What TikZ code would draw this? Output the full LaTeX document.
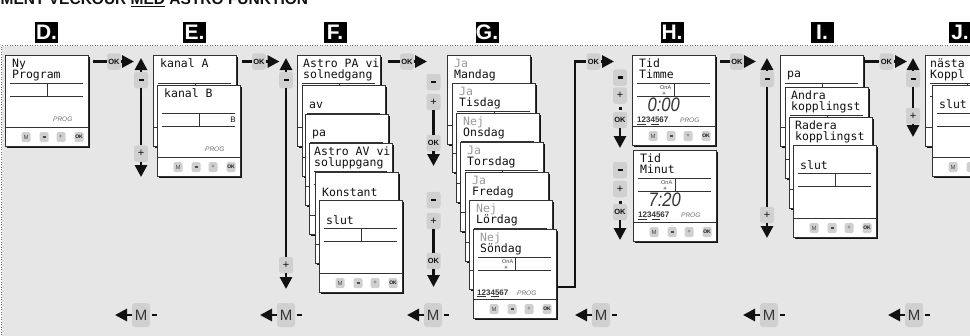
\documentclass[tikz,border=0pt]{standalone}
\usepackage{fontspec}
\usepackage{graphicx}
\setmainfont{Liberation Sans}
\newfontfamily\lcdfont{DejaVu Sans Mono}
\newfontfamily\symf{DejaVu Sans}
\usetikzlibrary{arrows.meta}
\definecolor{bg}{HTML}{E6E6E6}
\definecolor{btngray}{HTML}{D0D0D0}
\definecolor{scrline}{HTML}{333333}
\definecolor{ink}{HTML}{111111}
\definecolor{faint}{HTML}{9A9A9A}
\tikzset{
 conn/.style={line width=2.8pt, draw=ink, line join=miter},
 arrowtri/.style={-{Triangle[length=12pt,width=12pt]}},
 ctl/.style={fill=btngray, rounded corners=2.5pt, minimum width=14pt, minimum height=16.5pt, inner sep=0pt, font=\fontsize{11}{11}\selectfont, text=ink},
 okc/.style={ctl, font=\bfseries\fontsize{7.5}{8}\selectfont},
 mbtn/.style={fill=btngray, rounded corners=3pt, minimum width=18pt, minimum height=24pt, inner sep=0pt, font=\fontsize{15}{15}\selectfont, text=ink!85},
 lab/.style={fill=black, text=white, font=\bfseries\fontsize{21}{21}\selectfont, minimum width=23pt, minimum height=21pt, inner sep=0pt},
 frame/.style={draw=scrline, fill=white, line width=0.8pt, minimum width=83pt, inner sep=0pt},
 sline/.style={draw=scrline, line width=0.8pt},
 sbtn/.style={fill=btngray, rounded corners=1.5pt, minimum width=9pt, minimum height=10pt, inner sep=0pt, font=\fontsize{6}{6}\selectfont, text=ink!75},
 lcd/.style={anchor=base west, inner sep=0pt, font=\lcdfont\fontsize{11.5}{12}\selectfont, text=ink},
 lcdg/.style={lcd, text=faint},
 prog/.style={anchor=base west, inner sep=0pt, font=\itshape\fontsize{6.5}{7}\selectfont, text=ink!60},
 days/.style={anchor=base west, inner sep=0pt, font=\bfseries\fontsize{8}{8}\selectfont, text=ink!85},
 ona/.style={anchor=base west, inner sep=0pt, font=\fontsize{5.5}{6}\selectfont, text=ink!80},
 sun/.style={inner sep=0pt, font=\symf\fontsize{5}{5}\selectfont, text=ink!80},
 digits/.style={anchor=base east, inner sep=0pt, font=\itshape\fontsize{19.5}{20}\selectfont, text=ink!85},
 dotn/.style={fill=ink, minimum size=3pt, inner sep=0pt},
}
% screen seen from behind (no visible buttons): name, left x, top y, height, extra content
\newcommand\scrback[5]{%
 \begin{scope}[shift={(#2,#3)}]
  \fill[ink] (2.4,2.4) rectangle (85.4,#4+2.4);
  \node[frame, minimum height=#4pt, anchor=north west] (#1) at (0,0) {};
  \draw[sline] (5,28) -- (78,28) (5,41.5) -- (78,41.5) (42,28) -- (42,41.5) (0,#4-19) -- (83,#4-19);
  #5
 \end{scope}}
% front screen, with its four buttons
\newcommand\scr[5]{%
 \scrback{#1}{#2}{#3}{#4}{#5}%
 \begin{scope}[shift={(#2,#3)}]
  \node[sbtn] (#1m) at (21,#4-9) {M};
  \node[sbtn] (#1n) at (39,#4-9) {\rule{3pt}{1.3pt}};
  \node[sbtn] (#1p) at (56,#4-9) {+};
  \node[sbtn, font=\bfseries\fontsize{5}{5}\selectfont, text=ink] (#1o) at (74,#4-9) {OK};
 \end{scope}}
\newcommand\minus{\rule{5pt}{2.2pt}}
\newcommand\lcdnum[1]{\raisebox{0pt}[\height][0pt]{\scalebox{0.85}[1]{#1}}}
\begin{document}
\begin{tikzpicture}[x=1pt,y=-1pt]
\useasboundingbox (0,0) rectangle (970,335);
\begin{scope}
\clip (0,0) rectangle (970,335);
\fill[white] (0,0) rectangle (970,335);
% title
\node[anchor=base west, inner sep=0pt, font=\bfseries\fontsize{15.5}{15}\selectfont, text=ink] (title) at (0.5,4.5) {MENT VECKOUR \underline{MED} ASTRO FUNKTION};
% frame
\fill[bg] (1.5,45.5) rectangle (975,340);
\draw[draw=ink!60, line width=1pt, dash pattern=on 1pt off 1.5pt] (1.5,340) -- (1.5,45.5) -- (975,45.5);
% step labels
\node[lab] (LD) at (46.5,32.5) {D.};
\node[lab] (LE) at (194.5,32.5) {E.};
\node[lab] (LF) at (335,32.5) {F.};
\node[lab] (LG) at (487,32.5) {G.};
\node[lab] (LH) at (672,32.5) {H.};
\node[lab] (LI) at (822,32.5) {I.};
\node[lab] (LJ) at (960,32.5) {J.};

% ---------- D
\scr{D}{5}{55}{91}{%
 \node[lcd] (Dl1) at (7,12) {Ny};
 \node[lcd] (Dl2) at (7,23.5) {Program};
 \node[prog] (Dpg) at (48,66) {PROG};}

% ---------- E
\scrback{Ea}{153}{55}{91}{\node[lcd] (Eal) at (7,12) {kanal A};}
\scr{Eb}{157}{85}{91}{%
 \node[lcd] (Ebl) at (7,12) {kanal B};
 \node[anchor=base east, inner sep=0pt, font=\fontsize{8}{8}\selectfont, text=ink] (EbB) at (79,37) {B};
 \node[prog] (Ebpg) at (48,66) {PROG};}

% ---------- F
\scrback{F1}{297}{55}{91}{\node[lcd] (F1a) at (6,12) {Astro PA vi}; \node[lcd] (F1b) at (6,23.5) {solnedgang};}
\scrback{F2}{302}{85}{91}{\node[lcd] (F2b) at (7,23.5) {av};}
\scrback{F3}{305}{114}{91}{\node[lcd] (F3b) at (7,22) {pa};}
\scrback{F4}{309}{143}{91}{\node[lcd] (F4a) at (5,12) {Astro AV vi}; \node[lcd] (F4b) at (5,23.5) {soluppgang};}
\scrback{F5}{315}{172}{91}{\node[lcd] (F5b) at (7,24) {Konstant};}
\scr{F6}{319}{200}{92}{\node[lcd] (F6b) at (7,24) {slut};}

% ---------- G
\scrback{G1}{447}{55}{89}{\node[lcdg] (G1a) at (7,12) {Ja}; \node[lcd] (G1b) at (7,23.5) {Mandag};}
\scrback{G2}{452}{83}{89}{\node[lcdg] (G2a) at (7,12) {Ja}; \node[lcd] (G2b) at (7,23.5) {Tisdag};}
\scrback{G3}{456}{113}{89}{\node[lcdg] (G3a) at (7,12) {Nej}; \node[lcd] (G3b) at (7,23.5) {Onsdag};}
\scrback{G4}{460}{142}{89}{\node[lcdg] (G4a) at (7,12) {Ja}; \node[lcd] (G4b) at (7,23.5) {Torsdag};}
\scrback{G5}{465}{172}{89}{\node[lcdg] (G5a) at (7,12) {Ja}; \node[lcd] (G5b) at (7,23.5) {Fredag};}
\scrback{G6}{469}{200}{89}{\node[lcdg] (G6a) at (7,12) {Nej}; \node[lcd] (G6b) at (7,23.5) {Lördag};}
\scr{G7}{473}{229}{89}{%
 \node[lcdg] (G7a) at (7,12) {Nej}; \node[lcd] (G7b) at (7,23.5) {Söndag};
 \node[ona] (G7on) at (29,34) {OnA};
 \node[sun] (G7sun) at (33,38.5) {☀};
 \node[days] (G7dy) at (4,66) {\underline{1}\underline{2}3\underline{4}\underline{5}67};
 \node[prog] (G7pg) at (44,66) {PROG};}

% ---------- H
\scr{H1}{632}{55}{90}{%
 \node[lcd] (H1a) at (7,12) {Tid}; \node[lcd] (H1b) at (7,23.5) {Timme};
 \node[ona] (H1on) at (28,34) {OnA};
 \node[sun] (H1sun) at (32,38.5) {☀};
 \node[digits] (H1dg) at (48,56.5) {\lcdnum{0:00}};
 \node[days] (H1dy) at (5,67.5) {\underline{1}\underline{2}3\underline{4}\underline{5}67};
 \node[prog] (H1pg) at (48,67.5) {PROG};}
\scr{H2}{633}{150}{91}{%
 \node[lcd] (H2a) at (7,12) {Tid}; \node[lcd] (H2b) at (7,23.5) {Minut};
 \node[ona] (H2on) at (28,34) {OnA};
 \node[sun] (H2sun) at (32,38.5) {☀};
 \node[digits] (H2dg) at (48,56.5) {\lcdnum{7:20}};
 \node[days] (H2dy) at (5,67.5) {\underline{1}\underline{2}3\underline{4}\underline{5}67};
 \node[prog] (H2pg) at (48,67.5) {PROG};}

% ---------- I
\scrback{I1}{780}{55}{91}{\node[lcd] (I1b) at (7,22) {pa};}
\scrback{I2}{785}{87}{91}{\node[lcd] (I2a) at (6,12.5) {Andra}; \node[lcd] (I2b) at (6,23.5) {kopplingst};}
\scrback{I3}{789}{117}{91}{\node[lcd] (I3a) at (6,12.5) {Radera}; \node[lcd] (I3b) at (6,23.5) {kopplingst};}
\scr{I4}{793}{145}{92}{\node[lcd] (I4b) at (7,24) {slut};}

% ---------- J
\scrback{J1}{925}{55}{91}{\node[lcd] (J1a) at (5,12) {nästa}; \node[lcd] (J1b) at (5,23.5) {Koppl};}
\scr{J2}{932}{85}{91}{\node[lcd] (J2b) at (7,23) {slut};}

% ---------- horizontal OK connectors
\coordinate (s1) at (93,61.5);  \node[okc] (ok1) at (114,61.5) {OK};  \coordinate (a1) at (134,61.5);
\coordinate (s2) at (242,61.5); \node[okc] (ok2) at (259,61.5) {OK};  \coordinate (a2) at (279.5,61.5);
\coordinate (s3) at (388,61.5); \node[okc] (ok3) at (407,61.5) {OK};  \coordinate (a3) at (427,61.5);
\coordinate (gs) at (558,287); \coordinate (gc1) at (575,287); \coordinate (gc2) at (575,61.5);
\node[okc] (ok4) at (593.5,61.5) {OK}; \coordinate (a4) at (614,61.5);
\coordinate (s5) at (720,61.5); \node[okc] (ok5) at (737,61.5) {OK};  \coordinate (a5) at (756,61.5);
\coordinate (s6) at (865,61.5); \node[okc] (ok6) at (886.5,61.5) {OK}; \coordinate (a6) at (907,61.5);
\draw[conn] (s1) -- (ok1.west); \draw[conn, arrowtri] (ok1.east) -- (a1);
\draw[conn] (s2) -- (ok2.west); \draw[conn, arrowtri] (ok2.east) -- (a2);
\draw[conn] (s3) -- (ok3.west); \draw[conn, arrowtri] (ok3.east) -- (a3);
\draw[conn] (gs) -- (gc1) -- (gc2) -- (ok4.west); \draw[conn, arrowtri] (ok4.east) -- (a4);
\draw[conn] (s5) -- (ok5.west); \draw[conn, arrowtri] (ok5.east) -- (a5);
\draw[conn] (s6) -- (ok6.west); \draw[conn, arrowtri] (ok6.east) -- (a6);

% ---------- vertical control columns with up arrow
% E
\node[ctl] (Em) at (141,80) {\minus}; \node[ctl] (Ep) at (141,153.5) {+};
\coordinate (Eu) at (141,58); \coordinate (Ed) at (141,177);
\draw[conn, arrowtri] (Em.north) -- (Eu); \draw[conn] (Em.south) -- (Ep.north); \draw[conn, arrowtri] (Ep.south) -- (Ed);
% F
\node[ctl] (Fm) at (286,80) {\minus}; \node[ctl] (Fp) at (286,265) {+};
\coordinate (Fu) at (286,58); \coordinate (Fd) at (286,289);
\draw[conn, arrowtri] (Fm.north) -- (Fu); \draw[conn] (Fm.south) -- (Fp.north); \draw[conn, arrowtri] (Fp.south) -- (Fd);
% I
\node[ctl] (Im) at (767,79) {\minus}; \node[ctl] (Ip) at (767,215) {+};
\coordinate (Iu) at (767,58); \coordinate (Id) at (767,238);
\draw[conn, arrowtri] (Im.north) -- (Iu); \draw[conn] (Im.south) -- (Ip.north); \draw[conn, arrowtri] (Ip.south) -- (Id);
% J
\node[ctl] (Jm) at (913,79) {\minus}; \node[ctl] (Jp) at (913,116) {+};
\coordinate (Ju) at (913,58); \coordinate (Jd) at (913,137);
\draw[conn, arrowtri] (Jm.north) -- (Ju); \draw[conn] (Jm.south) -- (Jp.north); \draw[conn, arrowtri] (Jp.south) -- (Jd);

% ---------- G columns
\node[ctl] (G1m) at (433.5,82) {\minus}; \node[ctl] (G1p) at (433.5,102) {+}; \node[okc] (G1o) at (433.5,143) {OK};
\coordinate (G1d) at (433.5,166);
\draw[conn] (G1p.south) -- (G1o.north); \draw[conn, arrowtri] (G1o.south) -- (G1d);
\node[ctl] (G2m) at (433.5,200) {\minus}; \node[ctl] (G2p) at (433.5,221) {+}; \node[okc] (G2o) at (433.5,261) {OK};
\coordinate (G2d) at (433.5,287);
\draw[conn] (G2p.south) -- (G2o.north); \draw[conn, arrowtri] (G2o.south) -- (G2d);

% ---------- H columns
\node[ctl] (H1m) at (620,77.5) {\minus}; \node[ctl] (H1p) at (620,95.5) {+};
\node[dotn] (H1dt) at (620,108.5) {}; \node[okc] (H1o) at (620,120) {OK};
\coordinate (H1d) at (620,148);
\draw[conn, arrowtri] (H1o.south) -- (H1d);
\node[ctl] (H2m) at (620,170) {\minus}; \node[ctl] (H2p) at (620,189) {+};
\node[dotn] (H2dt) at (620,202) {}; \node[okc] (H2o) at (620,212) {OK};
\coordinate (H2d) at (620,240);
\draw[conn, arrowtri] (H2o.south) -- (H2d);

% ---------- M (back) rows
\foreach \i/\c in {1/141,2/286,3/433,4/601,5/769,6/914}{
 \node[mbtn] (M\i) at (\c,315) {M};
 \coordinate (Mt\i) at (\c-26,315);
 \coordinate (Me\i) at (\c+15.5,315);
 \draw[conn, arrowtri] (M\i.west) -- (Mt\i);
 \draw[conn, shorten <=1.5pt] (M\i.east) -- (Me\i);
}
\end{scope}
\end{tikzpicture}
\end{document}
